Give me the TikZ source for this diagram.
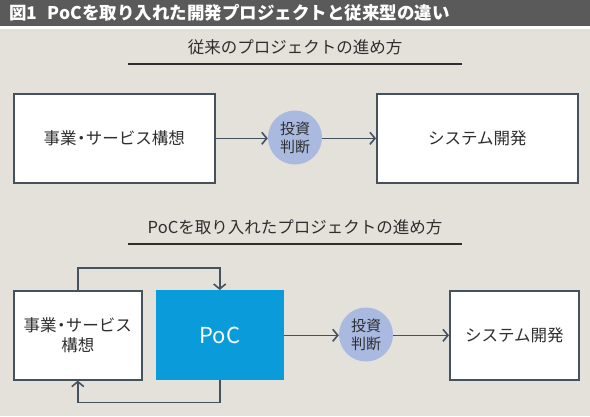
\documentclass[tikz,border=0pt]{standalone}
\usepackage{fontspec}
\setmainfont{Noto Sans CJK JP}
\newfontfamily\cjk{Noto Sans CJK JP}
\usetikzlibrary{arrows.meta}
\definecolor{bgc}{HTML}{E4E1DB}
\definecolor{barc}{HTML}{5A5A5A}
\definecolor{linec}{HTML}{44525F}
\definecolor{circc}{HTML}{A9B9DF}
\definecolor{pocc}{HTML}{0A9BDA}
\definecolor{txtc}{HTML}{2E2E2E}
\newcommand{\ndot}{\kern-0.22em・\kern-0.22em}
\tikzset{
  box/.style={draw=linec, line width=1.6pt, fill=white, inner sep=0pt, anchor=north west, text=txtc},
  decide/.style={circle, fill=circc, minimum size=54pt, inner sep=0pt, text=txtc, align=center, font=\fontsize{15}{18}\selectfont},
  flow/.style={draw=linec, line width=1.6pt, -{Straight Barb[length=5pt,width=12pt,line width=1.6pt]}},
  heading/.style={text=txtc, font=\fontsize{16.5}{19}\selectfont},
  uline/.style={draw=txtc, line width=1.4pt},
  btext/.style={font=\fontsize{16.5}{20}\selectfont, text=txtc, align=center}
}
\begin{document}
\begin{tikzpicture}[x=1pt,y=-1pt]
\useasboundingbox (0,0) rectangle (590,416);
\fill[bgc] (0,0) rectangle (590,416);
\fill[barc] (0,0) rectangle (590,25.5);
\fill[white] (0,25.5) rectangle (590,28.5);
\node[anchor=west, text=white, inner sep=0pt, font=\bfseries\fontsize{17.5}{20}\selectfont] (title) at (9,13) {図1\hspace{0.6em}PoCを取り入れた開発プロジェクトと従来型の違い};

% top section
\node[heading] (h1) at (295,47) {従来のプロジェクトの進め方};
\coordinate (u1a) at (128,64);
\coordinate (u1b) at (462,64);
\draw[uline] (u1a) -- (u1b);

\node[box, minimum width=201pt, minimum height=89pt] (a1) at (13,93) {};
\node[btext] at (a1.center) {事業\ndot サービス構想};
\node[decide] (c1) at (295,137.5) {投資\\判断};
\node[box, minimum width=201pt, minimum height=89pt] (a2) at (376,93) {};
\node[btext] at (a2.center) {システム開発};
\draw[flow] (a1.east) -- (a1.east -| c1.west);
\draw[flow] (a1.east -| c1.east) -- (a2.west);

% bottom section
\node[heading] (h2) at (295,227) {PoCを取り入れたプロジェクトの進め方};
\coordinate (u2a) at (128,244);
\coordinate (u2b) at (462,244);
\draw[uline] (u2a) -- (u2b);

\node[box, minimum width=128pt, minimum height=89pt] (b1) at (13,290) {};
\node[btext] at (b1.center) {事業\ndot サービス\\構想};
\node[fill=pocc, minimum width=128pt, minimum height=90pt, inner sep=0pt, anchor=north west, text=white, font=\fontsize{22}{26}\selectfont] (poc) at (155.5,290) {PoC};
\node[decide] (c2) at (366,334.5) {投資\\判断};
\node[box, minimum width=129pt, minimum height=89pt] (b2) at (449,290) {};
\node[btext] at (b2.center) {システム開発};

\draw[flow] (b1.north) -- ++(0,-22) -| (poc.north);
\draw[flow] (poc.south) -- ++(0,22) -| (b1.south);
\draw[flow] (b1.east -| poc.east) -- (b1.east -| c2.west);
\draw[flow] (b1.east -| c2.east) -- (b1.east -| b2.west);
\end{tikzpicture}
\end{document}
